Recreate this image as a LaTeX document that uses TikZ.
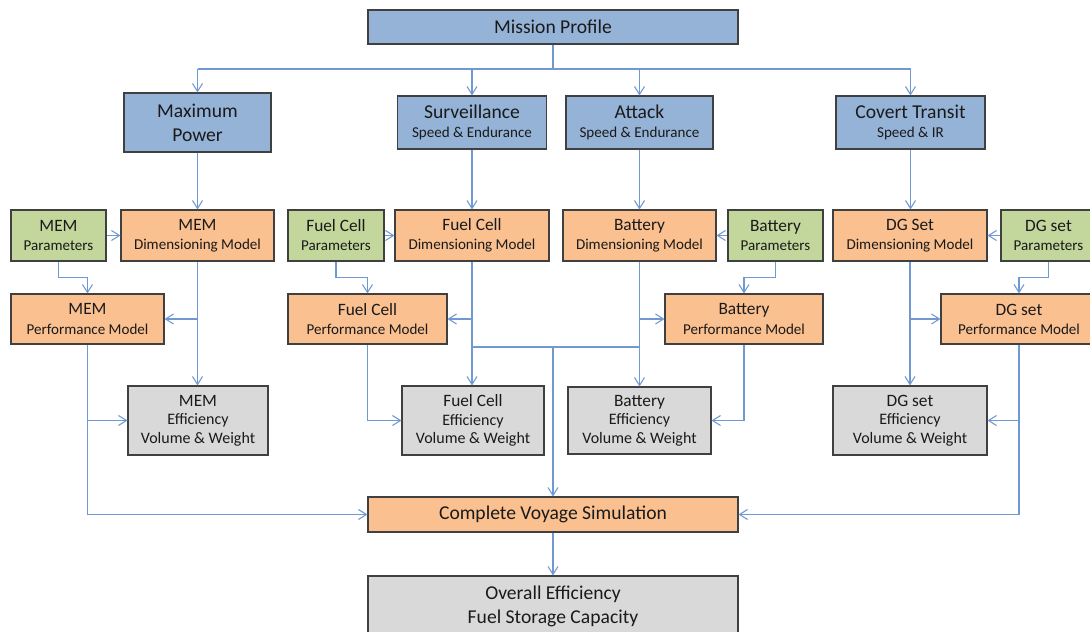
\documentclass[tikz,border=0pt]{standalone}
\usepackage{fontspec}
\setmainfont{Carlito}
\usetikzlibrary{arrows.meta}
\definecolor{bluebox}{HTML}{95B3D7}
\definecolor{orangebox}{HTML}{FAC090}
\definecolor{greenbox}{HTML}{C3D69B}
\definecolor{graybox}{HTML}{D9D9D9}
\definecolor{edge}{HTML}{404040}
\definecolor{conncol}{RGB}{112,152,210}
\definecolor{txt}{HTML}{1A1A1A}
\newcommand{\fbig}{\fontsize{14.7}{18}\selectfont}
\newcommand{\fmid}{\fontsize{13}{14.3}\selectfont}
\newcommand{\fsml}{\fontsize{11.3}{14.3}\selectfont}
\newcommand{\feff}{\fontsize{12}{14}\selectfont}
\begin{document}
\begin{tikzpicture}[x=0.75pt,y=-0.75pt,
  box/.style 2 args={draw=edge,line width=0.8pt,inner sep=0pt,align=center,text=txt,
    minimum width=#1*0.75pt,minimum height=#2*0.75pt},
  bluenode/.style={fill=bluebox},
  orangenode/.style={fill=orangebox},
  greennode/.style={fill=greenbox},
  graynode/.style={fill=graybox},
  line/.style={draw=conncol,line width=0.8pt},
  arr/.style={line,-{Straight Barb[length=6pt,width=7.5pt]}}]
\clip (0,0) rectangle (1090,632);
\fill[white] (0,0) rectangle (1090,632);

% top
\node[box={370}{34},bluenode,font=\fbig] (mp) at (553,27) {Mission Profile};
\node[box={147}{59},bluenode,font=\fbig] (maxp) at (197.5,122.5) {Maximum\\Power};
\node[box={149}{53},bluenode,font=\fsml] (surv) at (472,122.5) {{\fbig Surveillance}\\Speed \& Endurance};
\node[box={147}{53},bluenode,font=\fsml] (att) at (639.5,122.5) {{\fbig Attack}\\Speed \& Endurance};
\node[box={149}{53},bluenode,font=\fsml] (cov) at (910.5,122.5) {{\fbig Covert Transit}\\Speed \& IR};

% row 2
\node[box={95}{51},greennode,font=\fsml] (memp) at (58.5,235.5) {{\fmid MEM}\\Parameters};
\node[box={153}{51},orangenode,font=\fsml] (memd) at (197.5,235.5) {{\fmid MEM}\\Dimensioning Model};
\node[box={96}{51},greennode,font=\fsml] (fcp) at (336,235.5) {{\fmid Fuel Cell}\\Parameters};
\node[box={154}{51},orangenode,font=\fsml] (fcd) at (472,235.5) {{\fmid Fuel Cell}\\Dimensioning Model};
\node[box={153}{51},orangenode,font=\fsml] (batd) at (639.5,235.5) {{\fmid Battery}\\Dimensioning Model};
\node[box={95}{51},greennode,font=\fsml] (batp) at (775.5,235.5) {{\fmid Battery}\\Parameters};
\node[box={154}{51},orangenode,font=\fsml] (dgd) at (910,235.5) {{\fmid DG Set}\\Dimensioning Model};
\node[box={95}{51},greennode,font=\fsml] (dgp) at (1048.5,235.5) {{\fmid DG set}\\Parameters};

% row 3
\node[box={153}{50},orangenode,font=\fsml] (memperf) at (87.5,319) {{\fmid MEM}\\Performance Model};
\node[box={159}{50},orangenode,font=\fsml] (fcperf) at (367.5,319) {{\fmid Fuel Cell}\\Performance Model};
\node[box={158}{50},orangenode,font=\fsml] (batperf) at (744,319) {{\fmid Battery}\\Performance Model};
\node[box={156}{50},orangenode,font=\fsml] (dgperf) at (1019,319) {{\fmid DG set}\\Performance Model};

% row 4
\node[box={140}{69},graynode,font=\feff] (meme) at (198,420.5) {{\fmid MEM}\\Efficiency\\Volume \& Weight};
\node[box={142}{69},graynode,font=\feff] (fce) at (473,420.5) {{\fmid Fuel Cell}\\Efficiency\\Volume \& Weight};
\node[box={143}{67},graynode,font=\feff] (bate) at (639.5,420.5) {{\fmid Battery}\\Efficiency\\Volume \& Weight};
\node[box={154}{69},graynode,font=\feff] (dge) at (910,420.5) {{\fmid DG set}\\Efficiency\\Volume \& Weight};

% bottom
\node[box={370}{35},orangenode,font=\fbig] (cvs) at (553,514.5) {Complete Voyage Simulation};
\node[box={370}{60},graynode,font=\fbig] (ove) at (553,606) {Overall Efficiency\\Fuel Storage Capacity};

% connectors: mission bus
\coordinate (bus) at (553,69);
\draw[line] (mp.south) -- (bus);
\draw[line] (maxp.north |- bus) -- (cov.north |- bus);
\foreach \n in {maxp,surv,att,cov} \draw[arr] (\n.north |- bus) -- (\n.north);

% scenario -> dimensioning
\draw[arr] (maxp.south) -- (maxp.south |- memd.north);
\draw[arr] (surv.south) -- (surv.south |- fcd.north);
\draw[arr] (att.south) -- (att.south |- batd.north);
\draw[arr] (cov.south) -- (cov.south |- dgd.north);

% parameters -> dimensioning
\draw[arr] (memp.east) -- (memd.west);
\draw[arr] (fcp.east) -- (fcd.west);
\draw[arr] (batp.west) -- (batd.east);
\draw[arr] (dgp.west) -- (dgd.east);

% parameters -> performance
\draw[arr] (memp.south) -- ++(0,16) -| (memperf.north);
\draw[arr] (fcp.south) -- ++(0,16) -| (fcperf.north);
\draw[arr] (batp.south) -- ++(0,16) -| (batperf.north);
\draw[arr] (dgp.south) -- ++(0,16) -| (dgperf.north);

% dimensioning -> performance and efficiency
\draw[arr] (memd.south |- memperf.east) -- (memperf.east);
\draw[arr] (memd.south) -- (memd.south |- meme.north);
\draw[arr] (fcd.south |- fcperf.east) -- (fcperf.east);
\draw[arr] (fcd.south) -- (fcd.south |- fce.north);
\draw[arr] (batd.south |- batperf.west) -- (batperf.west);
\draw[arr] (batd.south) -- (batd.south |- bate.north);
\draw[arr] (dgd.south |- dgperf.west) -- (dgperf.west);
\draw[arr] (dgd.south) -- (dgd.south |- dge.north);

% performance -> efficiency
\draw[arr] (memperf.south) |- (meme.west);
\draw[arr] (fcperf.south) |- (fce.west);
\draw[arr] (batperf.south) |- (bate.east);
\draw[arr] (dgperf.south) |- (dge.east);

% to complete voyage simulation
\coordinate (j) at (553,347);
\draw[line] (fcd.south |- j) -- (batd.south |- j);
\draw[arr] (j) -- (cvs.north);
\draw[arr] (memperf.south) |- (cvs.west);
\draw[arr] (dgperf.south) |- (cvs.east);
\draw[arr] (cvs.south) -- (ove.north);
\end{tikzpicture}
\end{document}
